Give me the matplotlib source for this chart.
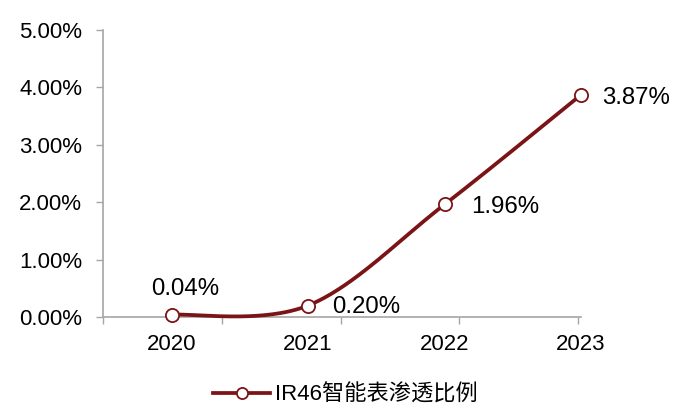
import numpy as np
import matplotlib
matplotlib.use("Agg")
import matplotlib.pyplot as plt
from matplotlib.lines import Line2D

plt.rcParams['font.family'] = ['Liberation Sans', 'Noto Sans CJK SC', 'DejaVu Sans']

years = ['2020', '2021', '2022', '2023']
values = [0.04, 0.20, 1.96, 3.87]  # percent
labels = ['0.04%', '0.20%', '1.96%', '3.87%']
series_name = 'IR46智能表渗透比例'
yticks = [0, 1, 2, 3, 4, 5]

color = '#7A1416'
grey = '#A6A6A6'

x = np.arange(len(values), dtype=float)
y = np.array(values)

# Excel-style smoothed line (cubic Bezier, control points at 1/6 of neighbour differences)
pts = np.column_stack([x, y])
curve = []
n = len(pts)
for i in range(n - 1):
    p0 = pts[i]
    p3 = pts[i + 1]
    prev = pts[i - 1] if i > 0 else pts[i]
    nxt = pts[i + 2] if i + 2 < n else pts[i + 1]
    c1 = p0 + (p3 - prev) / 6.0
    c2 = p3 - (nxt - p0) / 6.0
    t = np.linspace(0, 1, 60)[:, None]
    seg = ((1 - t) ** 3) * p0 + 3 * ((1 - t) ** 2) * t * c1 + 3 * (1 - t) * t ** 2 * c2 + t ** 3 * p3
    curve.append(seg if i == 0 else seg[1:])
curve = np.vstack(curve)

fig = plt.figure(figsize=(7.0, 4.17), dpi=100)
ax = fig.add_axes([103 / 700, 1 - 317 / 417, (581 - 103) / 700, (317 - 30) / 417])

ax.plot(curve[:, 0], curve[:, 1], color=color, lw=2.7, clip_on=False, zorder=3,
        solid_capstyle='round')
ax.plot(x, y, linestyle='none', marker='o', ms=9.5, mfc='white', mec=color, mew=1.3,
        clip_on=False, zorder=4)

offsets = [(9.5, 18.5), (42, -1), (44, -2), (40, -2.5)]
for xi, yi, lab, (dx, dy) in zip(x, y, labels, offsets):
    ax.annotate(lab, (xi, yi), xytext=(dx, dy), textcoords='offset points',
                ha='center', va='center', fontsize=17.3, color='#000000', zorder=5)

xl = -69 / 137.3
xr = (581 - 172) / 137.3
ax.set_xlim(xl, xr)
ax.set_ylim(0, 5)

ax.set_yticks(yticks)
ax.set_yticklabels([f'{v:.2f}%' for v in yticks], fontsize=16)
bounds = np.linspace(xl, xr, 5)
ax.set_xticks(bounds)
ax.set_xticklabels([''] * 5)
ax.set_xticks(x, minor=True)
ax.set_xticklabels(years, minor=True, fontsize=16)
ax.tick_params(axis='x', which='minor', length=0, pad=12)
ax.tick_params(axis='x', which='major', length=5, width=1, color=grey, direction='out')
ax.tick_params(axis='y', length=5, width=1, color=grey, direction='out', pad=10)

for s in ['top', 'right']:
    ax.spines[s].set_visible(False)
for s in ['left', 'bottom']:
    ax.spines[s].set_color(grey)
    ax.spines[s].set_linewidth(1.2)

proxy = Line2D([], [], color=color, lw=2.7, marker='o', ms=8, mfc='white', mec=color, mew=1.3)
fig.legend([proxy], [series_name], loc='center', bbox_to_anchor=(0.493, 1 - 395 / 417),
           frameon=False, fontsize=16, handlelength=2.6, handletextpad=0.2)

fig.savefig('out.png', dpi=100)
